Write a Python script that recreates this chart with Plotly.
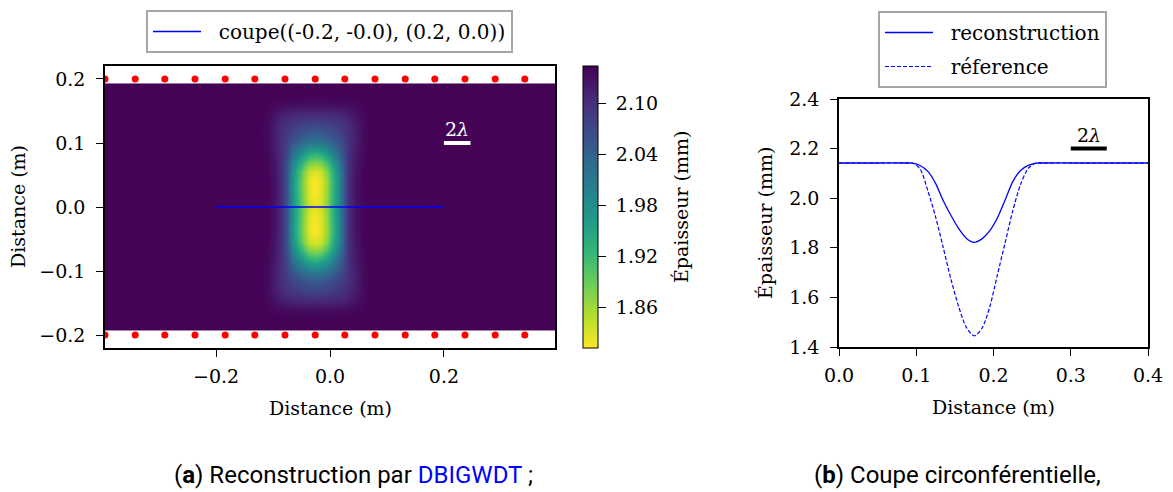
import numpy as np
import plotly.graph_objects as go

W, H = 1173, 492
SERIF = "DejaVu Serif"
SANS = "Roboto"

# ---------------- data: left panel (thickness map) ----------------
base_thickness = 2.142          # mm, sound plate
core_depth = 0.32               # mm, max thickness loss of reconstruction
halo_depth = 0.04               # mm, faint halo at the ends of the defect
defect_cx = -0.026              # m
map_x_limits = [-0.395, 0.395]
map_y_limits = [-0.192, 0.192]

dx_nodes = [-0.10, -0.085, -0.07, -0.06, -0.05, -0.04, -0.03, -0.02, -0.01, 0.0,
            0.01, 0.02, 0.03, 0.04, 0.05, 0.06, 0.07, 0.085, 0.10]
core_x = [0, 0.005, 0.05, 0.12, 0.27, 0.50, 0.68, 0.84, 0.96, 1.0,
          0.96, 0.84, 0.68, 0.50, 0.27, 0.12, 0.05, 0.005, 0]
halo_x = [0, 0.15, 0.6, 0.85, 1, 1, 1, 1, 1, 1, 1, 1, 1, 1, 1, 0.85, 0.6, 0.15, 0]

y_nodes = [-0.175, -0.16, -0.145, -0.13, -0.115, -0.10, -0.085, -0.07, -0.055, -0.04, -0.02, 0.0,
           0.02, 0.04, 0.055, 0.07, 0.085, 0.10, 0.115, 0.13, 0.145, 0.16, 0.175]
core_y = [0, 0.01, 0.04, 0.09, 0.17, 0.32, 0.55, 0.80, 0.97, 1.03, 1.02, 1.0,
          1.02, 1.03, 0.97, 0.80, 0.55, 0.32, 0.17, 0.09, 0.04, 0.01, 0]
halo_y = [0, 0.2, 0.7, 0.95, 1, 0.9, 0.6, 0.3, 0.1, 0, 0, 0,
          0, 0, 0.1, 0.3, 0.6, 0.9, 1, 0.95, 0.7, 0.2, 0]

sensor_x = [-0.395, -0.342, -0.290, -0.237, -0.184, -0.132, -0.079, -0.026,
            0.026, 0.079, 0.132, 0.184, 0.237, 0.290, 0.342]
sensor_y_top = 0.2
sensor_y_bottom = -0.2

cut_x = [-0.2, 0.2]
cut_y = [0.0, 0.0]
cut_label = "coupe((-0.2, -0.0), (0.2, 0.0))"

colorbar_ticks = [1.86, 1.92, 1.98, 2.04, 2.10]
z_min, z_max = 1.812, 2.1435

wavelength2 = 0.0466  # 2 lambda (m)

# ---------------- data: right panel (cross-section) ----------------
profile_d = [0.0, 0.05, 0.085, 0.095, 0.105, 0.115, 0.125, 0.135, 0.145, 0.155, 0.165, 0.175,
             0.185, 0.195, 0.205, 0.215, 0.225, 0.235, 0.245, 0.255, 0.265, 0.30, 0.4]
recon_t = [2.142, 2.142, 2.142, 2.141, 2.132, 2.108, 2.060, 1.990, 1.930, 1.877, 1.838, 1.822,
           1.836, 1.868, 1.920, 1.993, 2.067, 2.112, 2.132, 2.141, 2.142, 2.142, 2.142]
ref_t = [2.142, 2.142, 2.142, 2.142, 2.118, 2.030, 1.925, 1.800, 1.672, 1.562, 1.478, 1.445,
         1.475, 1.560, 1.690, 1.820, 1.950, 2.055, 2.120, 2.142, 2.142, 2.142, 2.142]

# ---------------- build map grid from read profiles ----------------
gx = [map_x_limits[0]] + [defect_cx + d for d in dx_nodes] + [map_x_limits[1]]
gy = [map_y_limits[0], map_y_limits[0] + 0.002] + y_nodes + [map_y_limits[1] - 0.002, map_y_limits[1]]
cx_all = np.array([0] + core_x + [0])
hx_all = np.array([0] + halo_x + [0])
cy_all = np.array([0, 0] + core_y + [0, 0])
hy_all = np.array([0, 0] + halo_y + [0, 0])
Z = base_thickness - core_depth * np.outer(cy_all, cx_all) - halo_depth * np.outer(hy_all, hx_all)


def px_x(p):
    return p / W


def px_y(p):
    return 1 - p / H


NB = "\u00a0\u00a0"

fig = go.Figure()

fig.add_trace(go.Heatmap(
    x=gx, y=gy, z=Z, zsmooth="best", colorscale="Viridis", reversescale=True,
    zmin=z_min, zmax=z_max, xaxis="x", yaxis="y", showlegend=False, hoverinfo="skip",
    colorbar=dict(
        thickness=15, thicknessmode="pixels",
        len=(348 - 66) / H, lenmode="fraction",
        x=px_x(583), xanchor="left", y=px_y(348), yanchor="bottom",
        xpad=0, ypad=0, outlinewidth=1, outlinecolor="black",
        tickvals=colorbar_ticks, ticktext=["\u00a0" + f"{v:.2f}" for v in colorbar_ticks],
        ticks="outside", ticklen=8, tickwidth=1.2, tickcolor="black",
        tickfont=dict(family=SERIF, size=19, color="black"),
    ),
))

fig.add_trace(go.Scatter(x=sensor_x, y=[sensor_y_top] * len(sensor_x), mode="markers",
                         marker=dict(color="red", size=7), showlegend=False, xaxis="x", yaxis="y",
                         cliponaxis=True, hoverinfo="skip"))
fig.add_trace(go.Scatter(x=sensor_x, y=[sensor_y_bottom] * len(sensor_x), mode="markers",
                         marker=dict(color="red", size=7), showlegend=False, xaxis="x", yaxis="y",
                         cliponaxis=True, hoverinfo="skip"))
fig.add_trace(go.Scatter(x=cut_x, y=cut_y, mode="lines", name=NB + cut_label,
                         line=dict(color="#0000ff", width=1.3), xaxis="x", yaxis="y", legend="legend"))

fig.add_trace(go.Scatter(x=profile_d, y=recon_t, mode="lines", name=NB + "reconstruction",
                         line=dict(color="#0000ff", width=1.3, shape="spline", smoothing=0.8),
                         xaxis="x2", yaxis="y2", legend="legend2", legendgroup="r"))
fig.add_trace(go.Scatter(x=profile_d, y=ref_t, mode="lines", name=NB + "réference",
                         line=dict(color="#0000ff", width=1.2, dash="4px,2px", shape="spline", smoothing=0.8),
                         xaxis="x2", yaxis="y2", legend="legend2", legendgroup="f"))

axis_common = dict(showline=True, mirror=True, linecolor="black", linewidth=1.5,
                   ticks="outside", ticklen=7, tickwidth=1.3, tickcolor="black",
                   showgrid=False, zeroline=False, tickformat=".1f", automargin=False,
                   tickfont=dict(family=SERIF, size=19, color="black"))

legend_common = dict(bgcolor="white", bordercolor="#a6a6a6", borderwidth=2,
                     font=dict(family=SERIF, size=20, color="black"),
                     xanchor="left", yanchor="top", itemwidth=48)

fig.update_layout(
    template="none",
    width=W, height=H, margin=dict(l=0, r=0, t=0, b=0, autoexpand=False),
    paper_bgcolor="white", plot_bgcolor="white",
    font=dict(family=SERIF, size=19, color="black"),
    xaxis=dict(domain=[px_x(105), px_x(555)], range=map_x_limits, ticklabelstandoff=3,
               tickvals=[-0.2, 0.0, 0.2], anchor="y", **axis_common),
    yaxis=dict(domain=[px_y(348), px_y(66)], range=[-0.2203, 0.2203], ticklabelstandoff=7,
               tickvals=[-0.2, -0.1, 0.0, 0.1, 0.2], anchor="x", **axis_common),
    xaxis2=dict(domain=[px_x(839), px_x(1148)], range=[0, 0.4], ticklabelstandoff=3,
                tickvals=[0.0, 0.1, 0.2, 0.3, 0.4], anchor="y2", **axis_common),
    yaxis2=dict(domain=[px_y(347), px_y(99)], range=[1.4, 2.4], ticklabelstandoff=7,
                tickvals=[1.4, 1.6, 1.8, 2.0, 2.2, 2.4], anchor="x2", **axis_common),
    legend=dict(x=px_x(146), y=px_y(10), **legend_common),
    legend2=dict(x=px_x(878), y=px_y(11), tracegroupgap=5, **legend_common),
    showlegend=True,
)

# 2 lambda scale bars
fig.add_shape(type="line", xref="x", yref="y", x0=0.2, x1=0.2 + wavelength2, y0=0.1, y1=0.1,
              line=dict(color="white", width=4))
fig.add_shape(type="line", xref="x2", yref="y2", x0=0.3, x1=0.3 + wavelength2, y0=2.2, y1=2.2,
              line=dict(color="black", width=4))

ann = []


def add_text(x, y, text, font, xref="paper", yref="paper", angle=0):
    ann.append(dict(x=x, y=y, xref=xref, yref=yref, text=text, textangle=angle,
                    xanchor="center", yanchor="middle", showarrow=False, font=font))


add_text(0.2 + wavelength2 / 2, 0.122, "2<i>λ</i>", dict(family=SERIF, size=19, color="white"), "x", "y")
add_text(0.3 + wavelength2 / 2, 2.255, "2<i>λ</i>", dict(family=SERIF, size=19, color="black"), "x2", "y2")
title_font = dict(family=SERIF, size=19, color="black")
add_text(px_x(330), px_y(408), "Distance (m)", title_font)
add_text(px_x(18), px_y(207), "Distance (m)", title_font, angle=-90)
add_text(px_x(993), px_y(407), "Distance (m)", title_font)
add_text(px_x(765), px_y(223), "Épaisseur (mm)", title_font, angle=-90)
add_text(px_x(681), px_y(207), "Épaisseur (mm)", title_font, angle=-90)  # colorbar title
cap_font = dict(family=SANS, size=24, color="black")
add_text(px_x(353), px_y(475),
         "(<b>a</b>) Reconstruction par <span style='color:#0000ff'>DBIGWDT</span> ;", cap_font)
add_text(px_x(957), px_y(475), "(<b>b</b>) Coupe circonférentielle,", cap_font)
fig.update_layout(annotations=ann)

fig.write_html("out.html", config={"displayModeBar": False},
               post_script="document.body.style.margin='0px';document.body.style.overflow='hidden';")
